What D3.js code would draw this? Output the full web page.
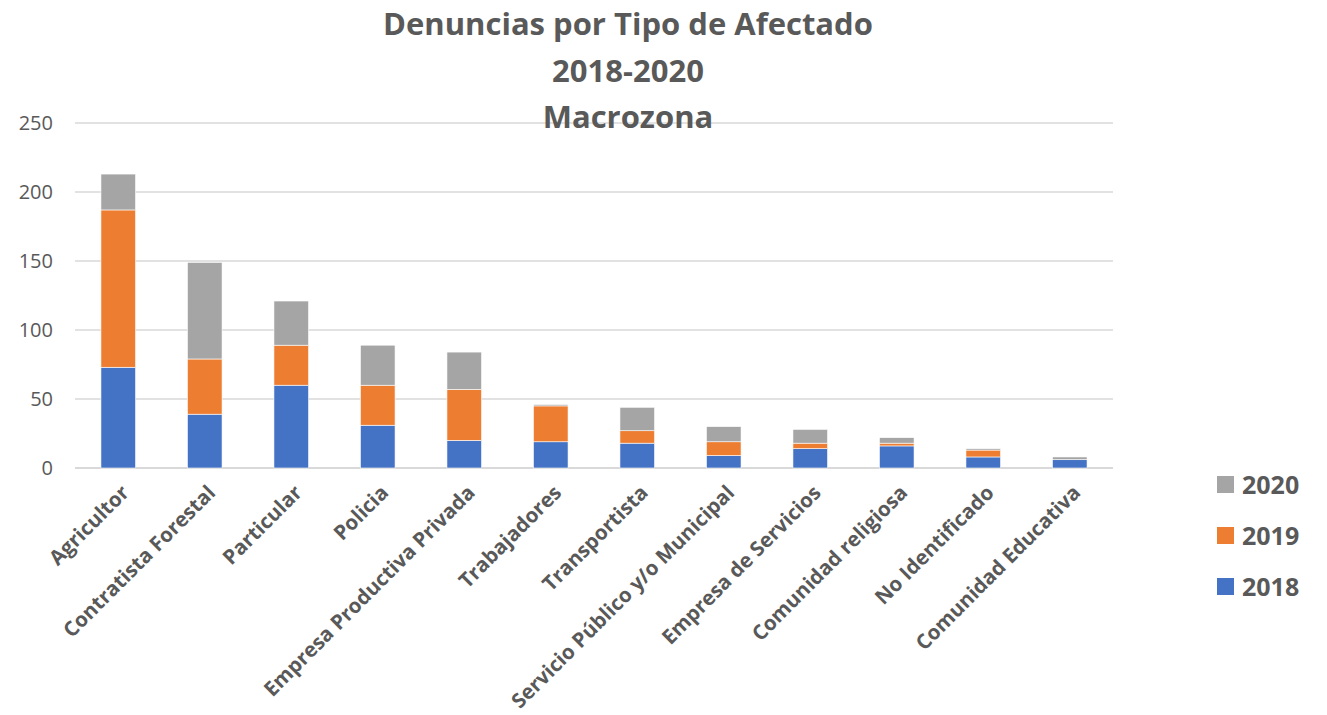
<!DOCTYPE html>
<html>
<head>
<meta charset="utf-8">
<script src="https://cdn.jsdelivr.net/npm/d3@7"></script>
<style>
  body { margin: 0; background: #fff; }
  svg { display: block; font-family: "Open Sans", sans-serif; }
</style>
</head>
<body>
<svg id="chart" width="1327" height="715"></svg>
<script>
const categories = [
  'Agricultor', 'Contratista Forestal', 'Particular', 'Policia',
  'Empresa Productiva Privada', 'Trabajadores', 'Transportista',
  'Servicio Público y/o Municipal', 'Empresa de Servicios',
  'Comunidad religiosa', 'No Identificado', 'Comunidad Educativa'
];
const years = ['2018', '2019', '2020'];
const v2018 = [73, 39, 60, 31, 20, 19, 18, 9, 14, 16, 8, 6];
const v2019 = [114, 40, 29, 29, 37, 26, 9, 10, 4, 2, 5, 0];
const v2020 = [26, 70, 32, 29, 27, 1, 17, 11, 10, 4, 1, 2];
const yTicks = [0, 50, 100, 150, 200, 250];
const titleLines = ['Denuncias por Tipo de Afectado', '2018-2020', 'Macrozona'];

const colors = { '2018': '#4472C4', '2019': '#ED7D31', '2020': '#A5A5A5' };
const textColor = '#595959';

const margin = { top: 123, left: 75, right: 214, bottom: 247 };
const width = 1327 - margin.left - margin.right;
const height = 715 - margin.top - margin.bottom;

const rows = categories.map((c, i) => ({ name: c, '2018': v2018[i], '2019': v2019[i], '2020': v2020[i] }));
const stacked = d3.stack().keys(years)(rows);

const svg = d3.select('#chart');
const g = svg.append('g').attr('transform', `translate(${margin.left},${margin.top})`);

const x = d3.scaleBand().domain(categories).range([0, width]).paddingInner(0.6).paddingOuter(0.3);
const y = d3.scaleLinear().domain([0, 250]).range([height, 0]);

// gridlines
g.append('g')
  .selectAll('line')
  .data(yTicks)
  .enter()
  .append('line')
  .attr('x1', 0)
  .attr('x2', width)
  .attr('y1', d => y(d))
  .attr('y2', d => y(d))
  .attr('stroke', '#d9d9d9')
  .attr('stroke-width', d => (d === 0 ? 2 : 1.3));

// y axis labels
const yAxis = g.append('g')
  .call(d3.axisLeft(y).tickValues(yTicks).tickSize(0).tickPadding(22));
yAxis.select('.domain').remove();
yAxis.selectAll('text')
  .attr('fill', textColor)
  .style('font-size', '20px')
  .style('font-family', '"Open Sans", sans-serif');

// bars
g.append('g')
  .selectAll('g')
  .data(stacked)
  .enter()
  .append('g')
  .attr('fill', d => colors[d.key])
  .selectAll('rect')
  .data(d => d)
  .enter()
  .append('rect')
  .attr('x', d => x(d.data.name))
  .attr('y', d => y(d[1]))
  .attr('width', x.bandwidth())
  .attr('height', d => y(d[0]) - y(d[1]))
  .attr('stroke', '#fff')
  .attr('stroke-width', 0.6);

// x axis labels
const xAxis = g.append('g')
  .attr('transform', `translate(0,${height})`)
  .call(d3.axisBottom(x).tickSize(0).tickPadding(0));
xAxis.select('.domain').remove();
xAxis.selectAll('text')
  .attr('fill', textColor)
  .style('font-size', '20.5px')
  .style('font-weight', 'bold')
  .style('font-family', '"Open Sans", sans-serif')
  .attr('text-anchor', 'end')
  .attr('dy', '0.55em')
  .attr('transform', 'translate(4,18) rotate(-45)');

// title
svg.append('text')
  .attr('x', 628)
  .attr('y', 35)
  .attr('text-anchor', 'middle')
  .attr('fill', textColor)
  .style('font-size', '31px')
  .style('font-weight', 'bold')
  .selectAll('tspan')
  .data(titleLines)
  .enter()
  .append('tspan')
  .attr('x', 628)
  .attr('dy', (d, i) => (i === 0 ? 0 : 46.5))
  .text(d => d);

// legend
const legend = svg.append('g').attr('transform', 'translate(1217,476)');
const legendItems = legend.selectAll('g')
  .data(years.slice().reverse())
  .enter()
  .append('g')
  .attr('transform', (d, i) => `translate(0,${i * 51})`);
legendItems.append('rect')
  .attr('width', 17)
  .attr('height', 17)
  .attr('fill', d => colors[d]);
legendItems.append('text')
  .attr('x', 25)
  .attr('y', 8.5)
  .attr('dy', '0.36em')
  .attr('fill', textColor)
  .style('font-size', '25px')
  .style('font-weight', 'bold')
  .text(d => d);
</script>
</body>
</html>
